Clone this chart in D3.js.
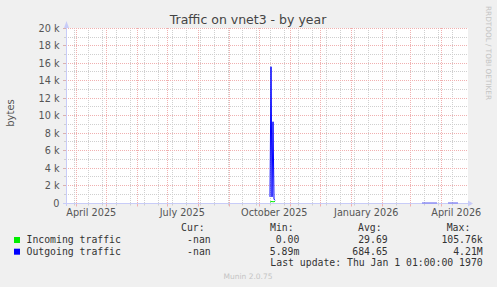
<!DOCTYPE html>
<html><head><meta charset="utf-8">
<script src="https://cdn.jsdelivr.net/npm/d3@7"></script>
<style>body{margin:0;background:#f0f0f0;overflow:hidden}</style>
</head><body>
<svg id="c" width="497" height="287"></svg>
<script>
// ---- data ----
const title = "Traffic on vnet3 - by year";
const yLabel = "bytes";
const yTicks = [0, 2000, 4000, 6000, 8000, 10000, 12000, 14000, 16000, 18000, 20000];
const yTickLabels = ["0", "2 k", "4 k", "6 k", "8 k", "10 k", "12 k", "14 k", "16 k", "18 k", "20 k"];
const yMinorTicks = [1000, 3000, 5000, 7000, 9000, 11000, 13000, 15000, 17000, 19000];
const xLabels = ["April 2025", "July 2025", "October 2025", "January 2026", "April 2026"];
const xLabelMonths = ["2025-04-01", "2025-07-01", "2025-10-01", "2026-01-01", "2026-04-01"];
const timeStart = "2025-03-21T17:00:00Z";
const timeEnd = "2026-04-25T17:00:00Z";
const minorGridStart = "2025-03-30T00:00:00Z";

const inTimes = ["2025-10-11T17:00:00Z", "2025-10-12T17:00:00Z", "2025-10-13T17:00:00Z", "2025-10-14T17:00:00Z", "2025-10-15T17:00:00Z", "2025-10-16T17:00:00Z"];
const inValues = [120, 150, 180, 130, 160, 170];

const outTimes = ["2025-10-11T17:00:00Z", "2025-10-12T17:00:00Z", "2025-10-13T17:00:00Z", "2025-10-14T17:00:00Z", "2025-10-15T17:00:00Z", "2025-10-16T17:00:00Z", "2025-10-17T17:00:00Z",
  "2026-03-12T17:00:00Z", "2026-03-27T17:00:00Z", "2026-03-28T17:00:00Z",
  "2026-04-07T17:00:00Z", "2026-04-17T17:00:00Z"];
const outValues = [700, 15600, 700, 9300, 450, 300, null,
  5, 5, null,
  5, 5];

const seriesNames = ["Incoming traffic", "Outgoing traffic"];
const seriesColors = ["#00ee00", "#0000ff"];
const legendHeaders = ["Cur:", "Min:", "Avg:", "Max:"];
const curValues = ["-nan", "-nan"];
const minValues = ["0.00", "5.89m"];
const avgValues = ["29.69", "684.65"];
const maxValues = ["105.76k", "4.21M"];
const lastUpdate = "Last update: Thu Jan  1 01:00:00 1970";
const footer = "Munin 2.0.75";
const watermark = "RRDTOOL / TOBI OETIKER";

// ---- layout ----
const L = 66, R = 467, T = 28.3, B = 203;
const svg = d3.select("#c");
const x = d3.scaleUtc().domain([new Date(timeStart), new Date(timeEnd)]).range([L, L + 400]);
const y = d3.scaleLinear().domain([0, 20000]).range([B, T]);
const px = v => Math.floor(v) + 0.5;

svg.append("rect").attr("width", 497).attr("height", 287).attr("fill", "#f0f0f0");
svg.append("rect").attr("x", L).attr("y", 28).attr("width", R - L + 1).attr("height", B - 28).attr("fill", "#ffffff");

const g = svg.append("g");
const minorColor = "#cfcfcf", majorColor = "#f0b0b0";
// minor vertical grid (every two weeks)
const minorDates = d3.utcDay.range(new Date(minorGridStart), new Date(timeEnd), 14);
minorDates.forEach(d => {
  const xx = px(x(d));
  g.append("line").attr("x1", xx).attr("x2", xx).attr("y1", 28).attr("y2", B)
    .attr("stroke", minorColor).attr("stroke-dasharray", "1,1");
  g.append("line").attr("x1", xx).attr("x2", xx).attr("y1", B).attr("y2", B + 2.5).attr("stroke", minorColor);
});
// minor horizontal grid
yMinorTicks.forEach(v => {
  const yy = px(y(v));
  g.append("line").attr("x1", L).attr("x2", R + 1).attr("y1", yy).attr("y2", yy)
    .attr("stroke", minorColor).attr("stroke-dasharray", "1,1");
  g.append("line").attr("x1", L - 2).attr("x2", L).attr("y1", yy).attr("y2", yy).attr("stroke", minorColor);
});
// major vertical grid (months)
const months = d3.utcMonth.range(new Date(timeStart), new Date(timeEnd));
months.forEach(d => {
  const xx = px(x(d));
  g.append("line").attr("x1", xx).attr("x2", xx).attr("y1", 28).attr("y2", B)
    .attr("stroke", majorColor).attr("stroke-dasharray", "1,1");
  g.append("line").attr("x1", xx).attr("x2", xx).attr("y1", B).attr("y2", B + 3.5).attr("stroke", majorColor);
});
// major horizontal grid
yTicks.forEach(v => {
  const yy = px(y(v));
  g.append("line").attr("x1", L).attr("x2", R + 1).attr("y1", yy).attr("y2", yy)
    .attr("stroke", majorColor).attr("stroke-dasharray", "1,1");
  g.append("line").attr("x1", L - 3).attr("x2", L).attr("y1", yy).attr("y2", yy).attr("stroke", "#d8b0b0");
});

// axes
const axisColor = "#c8ccf8";
g.append("line").attr("x1", L + 0.5).attr("x2", L + 0.5).attr("y1", 26).attr("y2", B + 3).attr("stroke", axisColor);
g.append("line").attr("x1", L - 3).attr("x2", R + 2).attr("y1", B + 0.5).attr("y2", B + 0.5).attr("stroke", axisColor);
g.append("path").attr("d", `M${L - 2},${28} L${L + 3},${28} L${L + 0.5},${21} Z`).attr("fill", axisColor);
g.append("path").attr("d", `M${R + 1},${B - 2.5} L${R + 1},${B + 3.5} L${R + 6},${B + 0.5} Z`).attr("fill", axisColor);

// y labels
const fontSans = "'DejaVu Sans', sans-serif";
yTicks.forEach((v, i) => {
  svg.append("text").attr("x", 59.5).attr("y", Math.floor(y(v)) + 4.3)
    .attr("text-anchor", "end").attr("font-family", fontSans).attr("font-size", "9.7px")
    .attr("fill", "#555").text(yTickLabels[i]);
});
// x labels (centered at mid-month)
xLabels.forEach((lab, i) => {
  const d = new Date(xLabelMonths[i] + "T00:00:00Z");
  const mid = d3.utcDay.offset(d, 15);
  svg.append("text").attr("x", x(mid)).attr("y", 215.5)
    .attr("text-anchor", "middle").attr("font-family", fontSans).attr("font-size", "9.7px")
    .attr("fill", "#555").text(lab);
});

// title and labels
svg.append("text").attr("x", 248).attr("y", 24).attr("text-anchor", "middle")
  .attr("font-family", fontSans).attr("font-size", "12.5px").attr("fill", "#444").text(title);
svg.append("text").attr("transform", "translate(13.5,113) rotate(-90)").attr("text-anchor", "middle")
  .attr("font-family", fontSans).attr("font-size", "10px").attr("fill", "#555").text(yLabel);
svg.append("text").attr("transform", "translate(485.5,6) rotate(90)").attr("text-anchor", "start")
  .attr("font-family", fontSans).attr("font-size", "7.3px").attr("fill", "#c4c4c4").text(watermark);

// series
const line = d3.line().defined(d => d.v != null).x(d => x(d.t)).y(d => y(d.v));
const inData = inTimes.map((t, i) => ({ t: new Date(t), v: inValues[i] }));
const outData = outTimes.map((t, i) => ({ t: new Date(t), v: outValues[i] }));
svg.append("path").datum(inData).attr("d", line).attr("fill", "none").attr("stroke", seriesColors[0]).attr("stroke-width", 1);
svg.append("path").datum(outData.slice(0, 7)).attr("d", line).attr("fill", "none").attr("stroke", seriesColors[1]).attr("stroke-width", 1);
svg.append("path").datum(outData.slice(7)).attr("d", line).attr("fill", "none").attr("stroke", "#6a6af0").attr("stroke-width", 1);

// legend
const fontMono = "'DejaVu Sans Mono', monospace";
const lg = svg.append("g").attr("font-family", fontMono).attr("font-size", "9.8px").attr("fill", "#333");
const headerX = [181, 270, 358, 446.7];
legendHeaders.forEach((h, i) => lg.append("text").attr("x", headerX[i]).attr("y", 231.3).text(h));
const rowY = [243.0, 254.7];
const colEnd = [210.7, 299.3, 387.7, 482.7];
seriesNames.forEach((n, i) => {
  lg.append("rect").attr("x", 14).attr("y", rowY[i] - 6).attr("width", 6).attr("height", 6).attr("fill", seriesColors[i]);
  lg.append("text").attr("x", 26.5).attr("y", rowY[i]).text(n);
  [curValues, minValues, avgValues, maxValues].forEach((arr, j) => {
    lg.append("text").attr("x", colEnd[j]).attr("y", rowY[i]).attr("text-anchor", "end").text(arr[i]);
  });
});
lg.append("text").attr("x", 482.7).attr("y", 266.4).attr("text-anchor", "end").text(lastUpdate);
svg.append("text").attr("x", 248).attr("y", 279).attr("text-anchor", "middle")
  .attr("font-family", fontSans).attr("font-size", "7.5px").attr("fill", "#c4c4c4").text(footer);
</script>
</body></html>
